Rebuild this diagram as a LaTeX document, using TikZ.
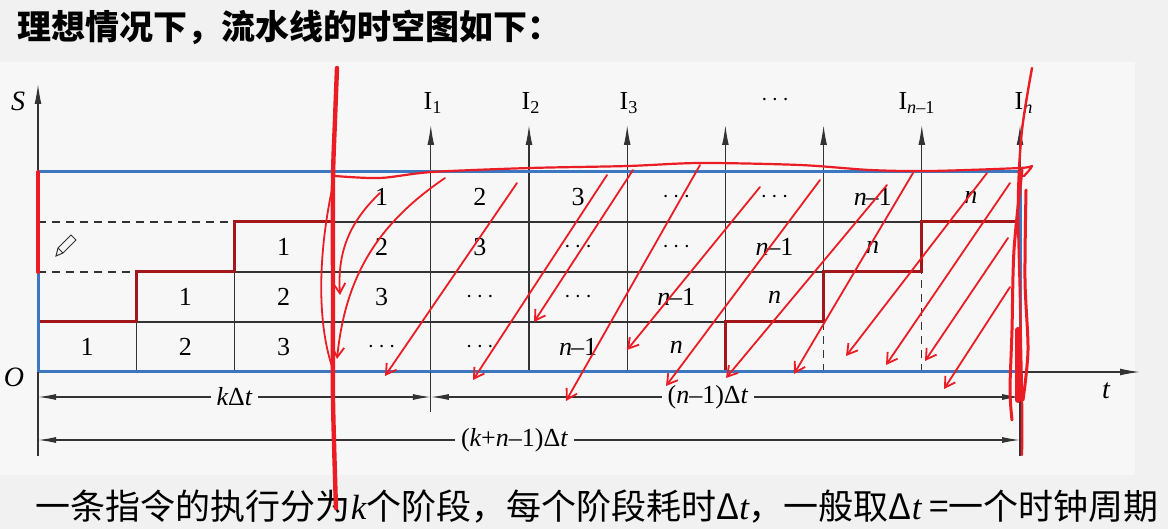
\documentclass[tikz,border=0pt]{standalone}
\usepackage{fontspec}
\setmainfont{Liberation Serif}
\newfontfamily\cjk{Noto Sans CJK SC}
\usetikzlibrary{arrows.meta}
\usetikzlibrary{positioning}

\definecolor{slidebg}{HTML}{F1F1F1}
\definecolor{framebg}{HTML}{F7F7F7}
\definecolor{frameblue}{HTML}{3C78C2}
\definecolor{stepred}{HTML}{A3161A}
\definecolor{penred}{HTML}{EC1C24}
\definecolor{gridgray}{HTML}{333333}

\newcommand{\stagedots}{$\cdots$}
\newcommand{\stagen}{{\itshape n}}
\newcommand{\stagenm}{{\itshape n}\kern-0.6pt\textendash1}

\tikzset{
  gridline/.style={draw=gridgray, line width=0.6pt},
  dashline/.style={draw=gridgray, line width=0.6pt, dash pattern=on 4pt off 3pt},
  stage/.style={font=\fontsize{13}{15}\selectfont, inner sep=0pt},
  instr/.style={font=\fontsize{13}{15}\selectfont, inner sep=0pt},
  axis/.style={draw=gridgray, line width=0.6pt, -{Latex[length=10pt,width=3.4pt]}},
  dim/.style={draw=gridgray, line width=0.6pt, {Latex[length=9pt,width=3pt]}-{Latex[length=9pt,width=3pt]}},
  dimlabel/.style={fill=framebg, inner xsep=3pt, inner ysep=1pt, font=\fontsize{13}{15}\selectfont},
  stair/.style={draw=stepred, line width=1.5pt},
  pen/.style={draw=penred, line width=0.9pt, line cap=round, line join=round},
  penarrow/.style={pen, -{Straight Barb[length=5pt,width=6pt]}},
}

\begin{document}
\begin{tikzpicture}[x=0.5pt,y=-0.5pt]
  \useasboundingbox[fill=slidebg] (0,0) rectangle (1168,529);
  \fill[framebg] (0,62) rectangle (1135,475);

  % grid coordinates
  \foreach \c in {0,...,10}
    \coordinate (x\c) at ({38+98.2*\c},372);
  \foreach \j in {0,...,4}
    \coordinate (y\j) at (38,{372-50*\j});
  \coordinate (atop) at (0,125);
  \coordinate (ext1) at (0,412);
  \coordinate (ext2) at (0,456);

  \node[anchor=west, font=\cjk\bfseries\fontsize{17}{19}\selectfont] (title) at (10,27) {理想情况下，流水线的时空图如下：};

  % stages
  \foreach \r in {1,...,4}{
    \foreach \lab [count=\i from 0] in {1,2,3,\stagedots,\stagedots,\stagenm,\stagen}{
      \pgfmathsetmacro{\cx}{38+98.2*(\r-1+\i+0.5)}
      \pgfmathsetmacro{\cy}{372-50*(\r-0.5)}
      \node[stage] (c\r-\i) at (\cx,\cy) {\lab};
    }
  }

  % inner lines
  \draw[gridline] (x1|-y1) -- (x7|-y1)
                  (x2|-y2) -- (x8|-y2)
                  (x3|-y3) -- (x9|-y3)
                  (x1) -- (x1|-y1)
                  (x2) -- (x2|-y2)
                  (x3) -- (x3|-y3)
                  (x7|-y1) -- (x7|-y4)
                  (x8|-y2) -- (x8|-y4)
                  (x9|-y3) -- (x9|-y4);
  \foreach \c in {4,5,6}
    \draw[gridline] (x\c) -- (x\c|-y4);
  \draw[dashline] (y2) -- (x1|-y2)
                  (y3) -- (x2|-y3)
                  (x8) -- (x8|-y1)
                  (x9) -- (x9|-y2);

  % instruction arrows
  \foreach \c in {4,...,10}
    \draw[axis] (x\c|-y4) -- (x\c|-atop);
  \node[instr] (i1) at (433,103) {I\textsubscript{1}};
  \node[instr] (i2) at (531,103) {I\textsubscript{2}};
  \node[instr] (i3) at (629,103) {I\textsubscript{3}};
  \node[instr] (idots) at (775,100) {\stagedots};
  \node[instr] (inm) at (917,103) {I\textsubscript{{\itshape n}\textendash1}};
  \node[instr] (in) at (1024,103) {I\textsubscript{\itshape n}};

  % staircases
  \draw[stair] (y1) -- (x1|-y1) -- (x1|-y2) -- (x2|-y2) -- (x2|-y3) -- (x3|-y3) -- (x3|-y4) -- (x10|-y4);
  \draw[stair] (x7) -- (x7|-y1) -- (x8|-y1) -- (x8|-y2) -- (x9|-y2) -- (x9|-y3) -- (x10|-y3) -- (x10|-y4);

  % axes
  \coordinate (stop) at (38,84);
  \coordinate (tend) at (1140,372);
  \draw[axis] (x0) -- (stop);
  \draw[axis] (x0) -- (tend);
  \node[instr, font=\itshape\fontsize{14}{16}\selectfont] (S) at (18,101) {S};
  \node[instr, font=\itshape\fontsize{14}{16}\selectfont] (O) at (14,377) {O};
  \node[instr, font=\itshape\fontsize{14}{16}\selectfont] (t) at (1106,391) {t};

  \draw[frameblue, line width=1.5pt] (y4) rectangle (x10);

  % dimensions
  \coordinate (d1) at (38,397);
  \coordinate (d2) at (x4|-d1);
  \coordinate (d3) at (x10|-d1);
  \coordinate (e1) at (38,440);
  \coordinate (e2) at (x10|-e1);
  \draw[gridline] (x0) -- (x0|-ext2) (x4) -- (x4|-ext1) (x10) -- (x10|-ext2);
  \draw[dim] (d1) -- node[dimlabel] (kdt) {{\itshape k}Δ{\itshape t}} (d2);
  \draw[dim] (d2) -- node[dimlabel, pos=0.47] (ndt) {({\itshape n}\textendash1)Δ{\itshape t}} (d3);
  \draw[dim] (e1) -- node[dimlabel, pos=0.485] (kndt) {({\itshape k}+{\itshape n}\textendash1)Δ{\itshape t}} (e2);

  % pencil cursor
  \draw[gridgray, line width=0.5pt] (56,256) -- (58,248) -- (71,235) -- (76,240) -- (63,253) -- cycle (58,248) -- (63,253);

  \node[anchor=east, font=\cjk\fontsize{17.5}{20}\selectfont] (note) at (1166,507)
    {一条指令的执行分为{\rmfamily\itshape k}个阶段，每个阶段耗时Δ{\rmfamily\itshape t}，一般取Δ{\rmfamily\itshape t} =一个时钟周期};

  % hand annotations
  \draw[pen, line width=2pt] (y4) -- (y2);
  \draw[pen, line width=1.1pt] plot[smooth] coordinates {(335,176) (380,178) (432,172) (530,168) (628,166) (700,163) (800,165) (870,170) (930,171) (1020,168) (1032,166) (1024,176)};
  \draw[pen, line width=2.2pt] plot[smooth] coordinates {(337,68) (335,120) (333,180) (333,300) (333,400) (336,508)};
  \draw[pen] (334,180) .. controls (316,260) and (318,330) .. (334,372);
  \draw[pen, line width=1.2pt] plot[smooth] coordinates {(1032,68) (1022,130) (1018,200) (1020,300) (1022,400) (1022,455)};
  \draw[pen, line width=1.5pt] plot[smooth] coordinates {(1022,170) (1014,250) (1012,330) (1010,390) (1012,420)};
  \draw[pen, line width=1.5pt] plot[smooth] coordinates {(1026,190) (1025,280) (1028,350) (1023,400)};
  \draw[pen, line width=3pt] (1018,330) -- (1018,400);
  \draw[penarrow] (380,193) to[bend right=25] (340,295);
  \draw[penarrow] (445,178) to[bend right=25] (337,359);
  \foreach \xa/\ya/\xb/\yb in {517/183/385/376, 607/175/473/380, 633/170/534/322, 700/165/566/401,
      760/187/627/350, 820/180/666/386, 887/185/726/378, 913/173/794/374, 987/173/846/356,
      1010/183/886/365, 1008/238/925/361, 1010/287/944/389}
    \draw[penarrow] (\xa,\ya) -- (\xb,\yb);
\end{tikzpicture}
\end{document}
